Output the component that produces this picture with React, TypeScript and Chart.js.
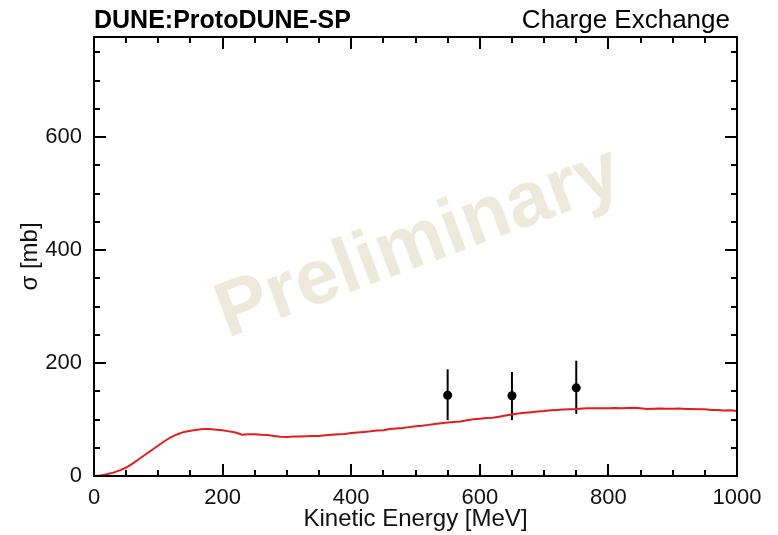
import React, { useEffect, useRef } from "react";
import { Chart, registerables } from "chart.js";

Chart.register(...registerables);

// ---- data ----
const energyMeV = [
  0, 10, 20, 30, 40, 50, 60, 70, 80, 90,
  100, 110, 120, 130, 140, 150, 160, 170, 180, 190,
  200, 210, 220, 230, 240, 250, 260, 270, 280, 290,
  300, 310, 320, 330, 340, 350, 360, 370, 380, 390,
  400, 410, 420, 430, 440, 450, 460, 470, 480, 490,
  500, 510, 520, 530, 540, 550, 560, 570, 580, 590,
  600, 610, 620, 630, 640, 650, 660, 670, 680, 690,
  700, 710, 720, 730, 740, 750, 760, 770, 780, 790,
  800, 810, 820, 830, 840, 850, 860, 870, 880, 890,
  900, 910, 920, 930, 940, 950, 960, 970, 980, 990,
  1000,
];
const sigmaMC = [
  0, 1, 3, 6, 10, 15, 22, 30, 38, 46,
  54, 62, 69, 74, 78, 80, 82, 83, 83, 82,
  81, 79, 77, 73, 74, 74, 73, 72.5, 71, 69.5,
  69, 70, 70, 70.5, 71, 71, 72, 73, 74, 74.5,
  76, 77, 78, 79, 80.5, 81, 83, 84, 85, 86.5,
  88, 89, 90.5, 92, 93.5, 94.5, 95.5, 96.5, 98.5, 100.5,
  101.5, 102.5, 103, 105, 107, 109, 110.5, 112, 113, 114,
  115, 116.5, 117, 117.5, 118, 118.5, 119.5, 120, 120, 120,
  120, 120.5, 120, 120.5, 121, 120, 118.5, 119, 119.5, 119,
  119, 119.5, 118.5, 118.5, 118, 118, 117, 117, 116, 116.5,
  115,
];
const dataEnergy = [550, 650, 750];
const dataSigma = [143, 142, 156];
const dataSigmaLow = [99, 99, 110];
const dataSigmaHigh = [189, 184, 204];

const xTickValues = [0, 200, 400, 600, 800, 1000];
const yTickValues = [0, 200, 400, 600];
const xMinorTicks = [
  50, 100, 150, 250, 300, 350, 450, 500, 550, 650, 700, 750, 850, 900, 950,
];
const yMinorTicks = [50, 100, 150, 250, 300, 350, 450, 500, 550, 650, 700, 750];
const X_MIN = 0;
const X_MAX = 1000;
const Y_MIN = 0;
const Y_MAX = 777;

const titleLeft = "DUNE:ProtoDUNE-SP";
const titleRight = "Charge Exchange";
const xTitle = "Kinetic Energy [MeV]";
const yTitle = "σ [mb]";
const watermark = "Preliminary";

const FONT = "'Liberation Sans', Arial, Helvetica, sans-serif";

const decorPlugin = {
  id: "decor",
  beforeDatasetsDraw(chart: any) {
    const { ctx, chartArea } = chart;
    const xs = chart.scales.x;
    const ys = chart.scales.y;
    // watermark
    ctx.save();
    const cx = chartArea.left + (chartArea.right - chartArea.left) * 0.517;
    const cy = chartArea.top + (chartArea.bottom - chartArea.top) * 0.517;
    ctx.translate(cx, cy);
    ctx.rotate((-20.4 * Math.PI) / 180);
    ctx.font = `bold 78px ${FONT}`;
    ctx.fillStyle = "rgb(237,234,220)";
    ctx.textAlign = "center";
    ctx.textBaseline = "alphabetic";
    ctx.fillText(watermark, 0, 0);
    ctx.restore();
    // error bars
    ctx.save();
    ctx.strokeStyle = "#000";
    ctx.lineWidth = 2;
    for (let i = 0; i < dataEnergy.length; i++) {
      const px = xs.getPixelForValue(dataEnergy[i]);
      ctx.beginPath();
      ctx.moveTo(px, ys.getPixelForValue(dataSigmaLow[i]));
      ctx.lineTo(px, ys.getPixelForValue(dataSigmaHigh[i]));
      ctx.stroke();
    }
    ctx.restore();
  },
  afterDraw(chart: any) {
    const { ctx, chartArea } = chart;
    const { left, right, top, bottom } = chartArea;
    const xs = chart.scales.x;
    const ys = chart.scales.y;
    ctx.save();
    ctx.strokeStyle = "#000";
    ctx.lineWidth = 2;
    ctx.lineCap = "butt";
    ctx.strokeRect(left, top, right - left, bottom - top);
    const major = 12;
    const minor = 6;
    ctx.beginPath();
    const xt = (v: number, len: number) => {
      const p = Math.round(xs.getPixelForValue(v));
      ctx.moveTo(p, bottom);
      ctx.lineTo(p, bottom - len);
      ctx.moveTo(p, top);
      ctx.lineTo(p, top + len);
    };
    const yt = (v: number, len: number) => {
      const p = Math.round(ys.getPixelForValue(v));
      ctx.moveTo(left, p);
      ctx.lineTo(left + len, p);
      ctx.moveTo(right, p);
      ctx.lineTo(right - len, p);
    };
    xTickValues.forEach((v) => xt(v, major));
    xMinorTicks.forEach((v) => xt(v, minor));
    yTickValues.forEach((v) => yt(v, major));
    yMinorTicks.forEach((v) => yt(v, minor));
    ctx.stroke();

    ctx.fillStyle = "#000";
    ctx.textBaseline = "alphabetic";
    ctx.font = `bold 25px ${FONT}`;
    ctx.textAlign = "left";
    ctx.fillText(titleLeft, left, 28);
    ctx.font = `26px ${FONT}`;
    ctx.textAlign = "right";
    ctx.fillText(titleRight, right - 7, 28);
    ctx.restore();
  },
};

export default function App() {
  const ref = useRef<HTMLCanvasElement | null>(null);
  useEffect(() => {
    if (!ref.current) return;
    const chart = new Chart(ref.current, {
      type: "scatter",
      data: {
        datasets: [
          {
            label: "MC",
            data: energyMeV.map((e, i) => ({ x: e, y: sigmaMC[i] })),
            showLine: true,
            borderColor: "rgb(232,28,28)",
            borderWidth: 2,
            pointRadius: 0,
            tension: 0,
            order: 2,
          },
          {
            label: "Data",
            data: dataEnergy.map((e, i) => ({ x: e, y: dataSigma[i] })),
            showLine: false,
            pointRadius: 4.5,
            pointBackgroundColor: "#000",
            pointBorderColor: "#000",
            pointBorderWidth: 0,
            order: 1,
          },
        ],
      },
      options: {
        responsive: false,
        animation: false,
        layout: { padding: { top: 37, right: 41, left: 0, bottom: 0 } },
        plugins: {
          legend: { display: false },
          tooltip: { enabled: false },
          title: { display: false },
        },
        scales: {
          x: {
            type: "linear",
            min: X_MIN,
            max: X_MAX,
            grid: { display: false, drawTicks: false },
            border: { display: false },
            afterBuildTicks: (s: any) => {
              s.ticks = xTickValues.map((v) => ({ value: v }));
            },
            afterFit: (s: any) => {
              s.height = 59;
            },
            ticks: {
              includeBounds: false,
              maxRotation: 0,
              autoSkip: false,
              padding: 9,
              color: "#111",
              font: { family: FONT, size: 22 },
              callback: (v: any) => String(v),
            },
            title: {
              display: true,
              text: xTitle,
              color: "#111",
              font: { family: FONT, size: 24, lineHeight: 1 },
              padding: { top: 0, bottom: 4 },
            },
          },
          y: {
            type: "linear",
            min: Y_MIN,
            max: Y_MAX,
            grid: { display: false, drawTicks: false },
            border: { display: false },
            afterBuildTicks: (s: any) => {
              s.ticks = yTickValues.map((v) => ({ value: v }));
            },
            afterFit: (s: any) => {
              s.width = 94;
            },
            ticks: {
              includeBounds: false,
              autoSkip: false,
              padding: 12,
              color: "#111",
              font: { family: FONT, size: 22 },
              callback: (v: any) => String(v),
            },
            title: {
              display: true,
              text: yTitle,
              color: "#111",
              font: { family: FONT, size: 24, lineHeight: 1 },
              padding: { top: 18, bottom: 0 },
            },
          },
        },
      },
      plugins: [decorPlugin],
    });
    return () => chart.destroy();
  }, []);
  return (
    <div style={{ position: "absolute", left: 0, top: 0, width: 778, height: 535, background: "#fff" }}>
      <canvas ref={ref} width={778} height={535} />
    </div>
  );
}
